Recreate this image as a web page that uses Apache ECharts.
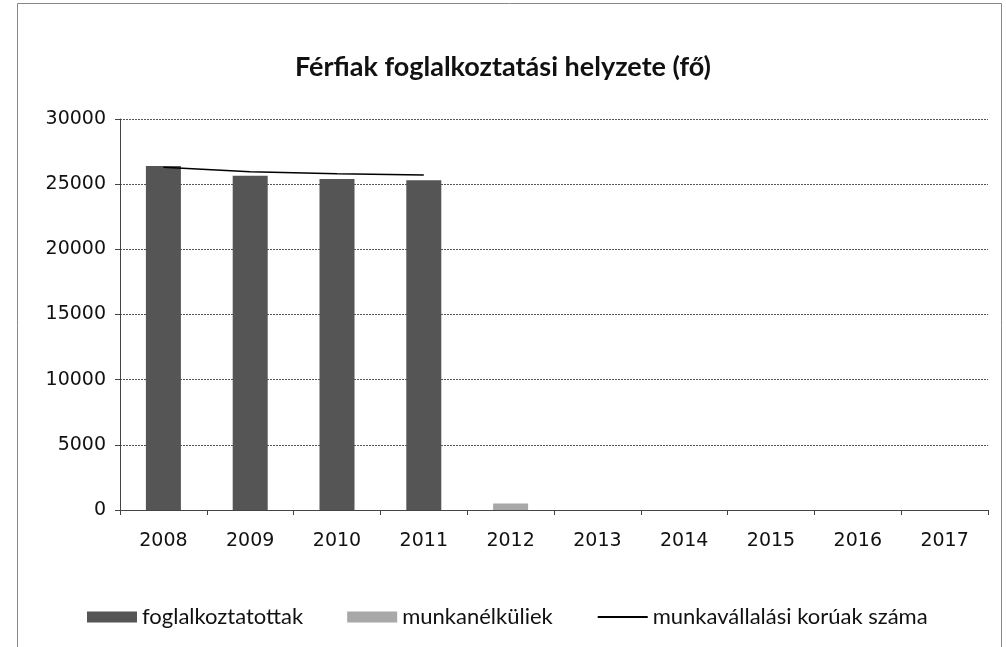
<!DOCTYPE html>
<html>
<head>
<meta charset="utf-8">
<script src="https://cdn.jsdelivr.net/npm/echarts@6/dist/echarts.min.js"></script>
<style>html,body{margin:0;padding:0;background:#fff}#c{width:1006px;height:647px}</style>
</head>
<body>
<div id="c"></div>
<script>
const categories = ['2008','2009','2010','2011','2012','2013','2014','2015','2016','2017'];
const employed = [26400, 25650, 25400, 25300, null, null, null, null, null, null];
const unemployed = [null, null, null, null, 500, null, null, null, null, null];
const workingAge = [26300, 25950, 25800, 25700, null, null, null, null, null, null];
const yTicks = [0, 5000, 10000, 15000, 20000, 25000, 30000];

const chart = echarts.init(document.getElementById('c'));
chart.setOption({
  animation: false,
  backgroundColor: '#fff',
  title: {
    text: 'Férfiak foglalkoztatási helyzete (fő)',
    left: 'center', top: 49,
    textStyle: { fontFamily: 'Lato', fontWeight: 'bold', fontSize: 27, color: '#111' }
  },
  graphic: [{
    type: 'rect', shape: { x: 17.5, y: 3.5, width: 984, height: 660 },
    style: { fill: 'none', stroke: '#888', lineWidth: 1 }
  }],
  legend: {
    top: 601, left: 82,
    itemWidth: 50, itemHeight: 11, itemGap: 44,
    textStyle: { fontFamily: 'Lato', fontSize: 22, color: '#111' },
    data: [
      { name: 'foglalkoztatottak', icon: 'rect' },
      { name: 'munkanélküliek', icon: 'rect' },
      { name: 'munkavállalási korúak száma', itemStyle: { opacity: 0 } }
    ]
  },
  grid: { left: 120, right: 18, top: 119, bottom: 137 },
  xAxis: {
    type: 'category', data: categories,
    axisLine: { lineStyle: { color: '#444', width: 1 } },
    axisTick: { show: true, length: 5, lineStyle: { color: '#444' } },
    axisLabel: { fontFamily: 'DejaVu Sans', fontSize: 19, color: '#111', margin: 22 }
  },
  yAxis: {
    type: 'value', min: 0, max: 30000, interval: 5000,
    axisLine: { show: true, lineStyle: { color: '#444' } },
    axisTick: { show: true, length: 5, lineStyle: { color: '#444' } },
    axisLabel: { fontFamily: 'DejaVu Sans', fontSize: 19, color: '#111', margin: 14,
      formatter: v => yTicks.includes(v) ? String(v) : '' },
    splitLine: { lineStyle: { color: '#555', type: [2, 1], width: 1 } }
  },
  series: [
    { name: 'foglalkoztatottak', type: 'bar', data: employed, barWidth: 35, barGap: '-100%',
      itemStyle: { color: '#555555' } },
    { name: 'munkanélküliek', type: 'bar', data: unemployed, barWidth: 35,
      itemStyle: { color: '#a8a8a8' } },
    { name: 'munkavállalási korúak száma', type: 'line', data: workingAge,
      symbol: 'none', showSymbol: false, lineStyle: { color: '#000', width: 1.5 },
      itemStyle: { color: '#000' } }
  ]
});
</script>
</body>
</html>
